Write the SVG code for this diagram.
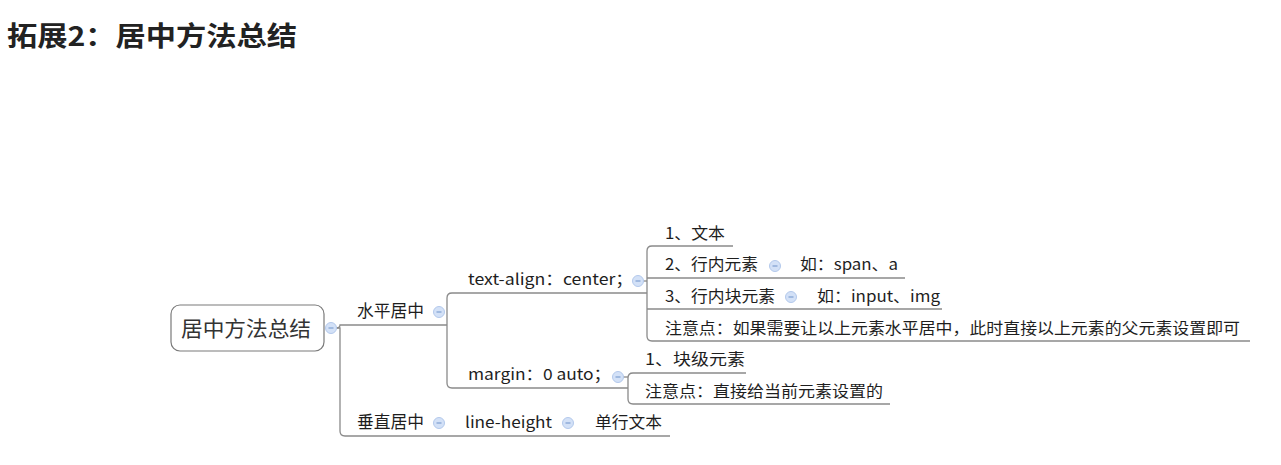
<svg xmlns="http://www.w3.org/2000/svg" width="1281" height="465" viewBox="0 0 1281 465">
<style>
.t{font-family:"Noto Sans CJK SC","Microsoft YaHei",sans-serif;font-size:15.5px;fill:#1e1e1e}
.b{font-size:17px}
.title{font-family:"Noto Sans CJK SC",sans-serif;font-size:27px;font-weight:bold;fill:#222}
.ln{fill:none;stroke:#8a8a8a;stroke-width:1.3}
.c{fill:#d3e1f7;stroke:#b3c9ec;stroke-width:1}
.m{stroke:#7f9fd0;stroke-width:1.2}
</style>
<defs>
<g id="col"><circle class="c" r="5.5"/><line class="m" x1="-2.5" y1="0" x2="2.5" y2="0"/></g>
</defs>
<rect width="1281" height="465" fill="#fff"/>
<text class="title" x="7" y="46" textLength="290" lengthAdjust="spacingAndGlyphs">拓展2：居中方法总结</text>
<g id="connectors">
<path class="ln" d="M336,328 Q340,328 340,325 H447"/>
<path class="ln" d="M336,328 H340 V431 Q340,436 345,436 H670"/>
<path class="ln" d="M447,325 V298 Q447,293 452,293 H647"/>
<path class="ln" d="M447,325 V383 Q447,388 452,388 H628"/>
<path class="ln" d="M733,246 H652 Q647,246 647,251 V336 Q647,341 652,341 H1250"/>
<path class="ln" d="M647,278 H905"/>
<path class="ln" d="M647,309 H942"/>
<path class="ln" d="M643,281 H647"/>
<path class="ln" d="M746,373 H633 Q628,373 628,378 V399 Q628,404 633,404 H890"/>
<path class="ln" d="M623,377 H628"/>
</g>
<g id="root">
<rect x="171" y="305" width="153" height="46" rx="9" fill="#fff" stroke="#7a7a7a" stroke-width="1.2"/>
<text class="t" x="181" y="336" style="font-size:21px;fill:#333" textLength="130" lengthAdjust="spacingAndGlyphs">居中方法总结</text>
<use href="#col" x="331" y="328"/>
</g>
<g id="n-horizontal">
<text class="t b" x="357" y="317" textLength="67" lengthAdjust="spacingAndGlyphs">水平居中</text>
<use href="#col" x="439" y="312"/>
</g>
<g id="n-textalign">
<text class="t" x="468" y="285" textLength="165" lengthAdjust="spacingAndGlyphs">text-align：center；</text>
<use href="#col" x="638" y="281"/>
</g>
<g id="n-text"><text class="t" x="665" y="239" textLength="60" lengthAdjust="spacingAndGlyphs">1、文本</text></g>
<g id="n-inline">
<text class="t" x="665" y="270" textLength="93" lengthAdjust="spacingAndGlyphs">2、行内元素</text>
<use href="#col" x="775" y="266"/>
</g>
<g id="n-inline-eg"><text class="t" x="800" y="270" textLength="98" lengthAdjust="spacingAndGlyphs">如：span、a</text></g>
<g id="n-inlineblock">
<text class="t" x="665" y="302" textLength="110" lengthAdjust="spacingAndGlyphs">3、行内块元素</text>
<use href="#col" x="791" y="297"/>
</g>
<g id="n-inlineblock-eg"><text class="t" x="817" y="302" textLength="123" lengthAdjust="spacingAndGlyphs">如：input、img</text></g>
<g id="n-note1"><text class="t" x="665" y="334" textLength="575" lengthAdjust="spacingAndGlyphs">注意点：如果需要让以上元素水平居中，此时直接以上元素的父元素设置即可</text></g>
<g id="n-margin">
<text class="t" x="468" y="380" textLength="143" lengthAdjust="spacingAndGlyphs">margin：0 auto；</text>
<use href="#col" x="618" y="377"/>
</g>
<g id="n-block"><text class="t" x="645" y="365" textLength="100" lengthAdjust="spacingAndGlyphs">1、块级元素</text></g>
<g id="n-note2"><text class="t" x="645" y="397" textLength="238" lengthAdjust="spacingAndGlyphs">注意点：直接给当前元素设置的</text></g>
<g id="n-vertical">
<text class="t b" x="357" y="428" textLength="67" lengthAdjust="spacingAndGlyphs">垂直居中</text>
<use href="#col" x="439" y="423"/>
</g>
<g id="n-lineheight">
<text class="t" x="465" y="428" textLength="87" lengthAdjust="spacingAndGlyphs">line-height</text>
<use href="#col" x="568" y="423"/>
</g>
<g id="n-single"><text class="t" x="595" y="428" textLength="67" lengthAdjust="spacingAndGlyphs">单行文本</text></g>
</svg>
